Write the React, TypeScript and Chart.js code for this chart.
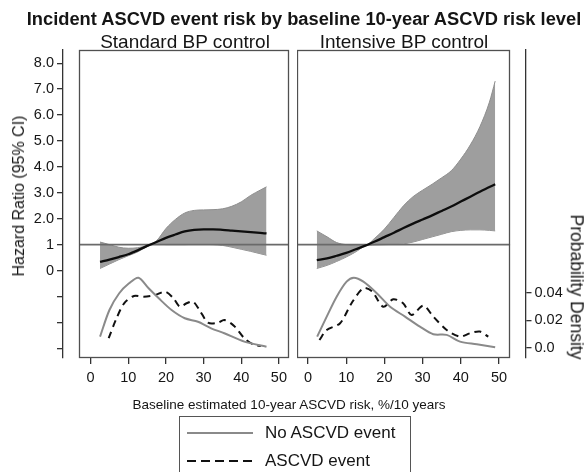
import React, { useEffect, useRef } from "react";
import { Chart, registerables } from "chart.js";

Chart.register(...registerables);

const FONT = "'Liberation Sans', Arial, Helvetica, sans-serif";
const TEXT = "#151515";

// ---------- Data (x = baseline 10-year ASCVD risk, %) ----------
// Standard BP control
const STD_X = [2.5, 5, 7.5, 10, 12.5, 15, 17.5, 20, 22.5, 25, 27.5, 30, 32.5, 35, 37.5, 40, 42.5, 45, 46.7];
const STD_HR = [0.33, 0.42, 0.52, 0.63, 0.78, 0.95, 1.1, 1.26, 1.39, 1.51, 1.57, 1.59, 1.59, 1.57, 1.54, 1.51, 1.48, 1.45, 1.43];
const STD_UPPER = [1.1, 1.0, 0.9, 0.86, 0.88, 0.97, 1.15, 1.62, 1.97, 2.22, 2.32, 2.34, 2.35, 2.38, 2.48, 2.65, 2.9, 3.1, 3.23];
const STD_LOWER = [0.08, 0.25, 0.42, 0.57, 0.72, 0.92, 1.02, 1.0, 1.0, 1.0, 1.01, 1.01, 1.0, 0.97, 0.9, 0.82, 0.74, 0.65, 0.59];
const STD_NOEVENT_X = [2.5, 5, 7.6, 10.2, 12.7, 15.4, 18.1, 21.5, 25, 28.5, 32, 35.5, 40.8, 46.7];
const STD_NOEVENT = [0.0082, 0.0276, 0.0398, 0.047, 0.0511, 0.0434, 0.0361, 0.0276, 0.0216, 0.0191, 0.0143, 0.0107, 0.0046, 0.0009];
const STD_EVENT_X = [4.8, 6.7, 8.9, 11.5, 14.1, 17.2, 19.8, 22, 23.7, 25.5, 27.2, 28.9, 31.2, 33.8, 35.5, 38.1, 40.8, 43.4, 45.2];
const STD_EVENT = [0.0071, 0.0204, 0.0325, 0.0378, 0.0373, 0.0385, 0.0409, 0.0361, 0.03, 0.0325, 0.0337, 0.0276, 0.0184, 0.0184, 0.0204, 0.016, 0.0071, 0.0022, 0.0015];

// Intensive BP control
const INT_X = [2.3, 5, 7.5, 10, 12.5, 15, 17.5, 20, 22.5, 25, 27.5, 30, 32.5, 35, 37.5, 40, 42.5, 45, 47.5, 49];
const INT_HR = [0.4, 0.47, 0.57, 0.68, 0.82, 0.96, 1.12, 1.29, 1.46, 1.64, 1.81, 1.97, 2.13, 2.3, 2.47, 2.66, 2.85, 3.04, 3.22, 3.33];
const INT_UPPER = [1.53, 1.3, 1.08, 1.0, 0.98, 0.98, 1.25, 1.6, 2.05, 2.5, 2.85, 3.1, 3.33, 3.58, 3.85, 4.3, 4.85, 5.55, 6.5, 7.31];
const INT_LOWER = [0.08, 0.2, 0.35, 0.52, 0.72, 0.95, 0.99, 1.0, 1.01, 1.03, 1.1, 1.2, 1.3, 1.4, 1.5, 1.55, 1.57, 1.57, 1.55, 1.53];
const INT_NOEVENT_X = [2.4, 4.9, 7.5, 10.1, 12.0, 14.5, 18, 21.5, 25.4, 29.3, 32.8, 36.3, 39.8, 44.2, 49];
const INT_NOEVENT = [0.0082, 0.0228, 0.0373, 0.0482, 0.0511, 0.0482, 0.0398, 0.03, 0.0228, 0.0155, 0.01, 0.0095, 0.0046, 0.0027, 0.0005];
const INT_EVENT_X = [3.0, 4.9, 8.4, 11.4, 14.5, 16.8, 19.7, 22.3, 24.9, 27.1, 30.2, 32.8, 36.3, 39.8, 42.4, 45, 47.2];
const INT_EVENT = [0.0058, 0.0131, 0.018, 0.0325, 0.0434, 0.041, 0.03, 0.0354, 0.0325, 0.024, 0.0308, 0.0228, 0.0131, 0.0082, 0.0107, 0.0119, 0.0082];

// Ticks
const X_TICKS = [0, 10, 20, 30, 40, 50];
const Y_TICKS = [8, 7, 6, 5, 4, 3, 2, 1, 0, -1, -2, -3];
const Y_TICK_LABELS = ["8.0", "7.0", "6.0", "5.0", "4.0", "3.0", "2.0", "1", "0", "", "", ""];
const D_TICKS = [0, 0.02, 0.04];
const D_TICK_LABELS = ["0.0", "0.02", "0.04"];
const REF_HR = 1;

// Scale ranges
const Y_MIN = -3.375;
const Y_MAX = 8.51;
const D_MIN = -0.0073;
const D_MAX = 0.2167;

type Panel = {
  x: number[]; hr: number[]; upper: number[]; lower: number[];
  noX: number[]; no: number[]; evX: number[]; ev: number[];
  xMin: number; xMax: number; frame: [number, number];
};

const STD: Panel = {
  x: STD_X, hr: STD_HR, upper: STD_UPPER, lower: STD_LOWER,
  noX: STD_NOEVENT_X, no: STD_NOEVENT, evX: STD_EVENT_X, ev: STD_EVENT,
  xMin: -7.33, xMax: 52.6, frame: [-3.05, 52.6],
};
const INT: Panel = {
  x: INT_X, hr: INT_HR, upper: INT_UPPER, lower: INT_LOWER,
  noX: INT_NOEVENT_X, no: INT_NOEVENT, evX: INT_EVENT_X, ev: INT_EVENT,
  xMin: -2.88, xMax: 56.94, frame: [-2.88, 52.9],
};

const pts = (xs: number[], ys: number[]) => xs.map((x, i) => ({ x, y: ys[i] }));

function framePlugin(range: [number, number]) {
  return {
    id: "panelFrame",
    afterDatasetsDraw(chart: any) {
      const { ctx, chartArea, scales } = chart;
      const x0 = Math.round(scales.x.getPixelForValue(range[0]));
      const x1 = Math.round(scales.x.getPixelForValue(range[1]));
      ctx.save();
      ctx.strokeStyle = "#505050";
      ctx.lineWidth = 1.3;
      ctx.strokeRect(x0 + 0.5, chartArea.top + 0.5, x1 - x0 - 1, chartArea.bottom - chartArea.top - 1);
      ctx.restore();
    },
  };
}

function buildConfig(p: Panel, isLeft: boolean): any {
  const tickFont = { family: FONT, size: 14.5 };
  const datasets: any[] = [
    {
      label: "HR", data: pts(p.x, p.hr), borderColor: "#0d0d0d", borderWidth: 2.3,
      pointRadius: 0, fill: false, yAxisID: "y", order: 0, cubicInterpolationMode: "monotone",
    },
    {
      label: "ref", data: [{ x: p.frame[0], y: REF_HR }, { x: p.frame[1], y: REF_HR }],
      borderColor: "#6a6a6a", borderWidth: 1.6, pointRadius: 0, fill: false, yAxisID: "y", order: 1,
    },
    {
      label: "upper", data: pts(p.x, p.upper), borderColor: "#8e8e8e", borderWidth: 1,
      backgroundColor: "#9e9e9e", fill: "+1", pointRadius: 0, yAxisID: "y", order: 3,
      cubicInterpolationMode: "monotone",
    },
    {
      label: "lower", data: pts(p.x, p.lower), borderColor: "#8e8e8e", borderWidth: 1,
      fill: false, pointRadius: 0, yAxisID: "y", order: 3, cubicInterpolationMode: "monotone",
    },
    {
      label: "No ASCVD event", data: pts(p.noX, p.no), borderColor: "#8a8a8a", borderWidth: 2,
      fill: false, pointRadius: 0, yAxisID: "yd", order: 2, tension: 0.3,
    },
    {
      label: "ASCVD event", data: pts(p.evX, p.ev), borderColor: "#111111", borderWidth: 2,
      borderDash: [7, 5], fill: false, pointRadius: 0, yAxisID: "yd", order: 2, tension: 0.3,
    },
  ];

  const scales: any = {
    x: {
      type: "linear", min: p.xMin, max: p.xMax,
      afterBuildTicks: (s: any) => { s.ticks = X_TICKS.map((v) => ({ value: v })); },
      afterFit: (s: any) => { s.height = 42; },
      ticks: { font: tickFont, color: TEXT, padding: 5, maxRotation: 0, autoSkip: false, callback: (v: any) => String(v) },
      grid: { drawOnChartArea: false, drawTicks: true, tickLength: 6, color: "#333", lineWidth: 1.3 },
      border: { display: false },
    },
    y: {
      type: "linear", position: "left", min: Y_MIN, max: Y_MAX, display: isLeft,
      afterBuildTicks: (s: any) => { s.ticks = Y_TICKS.map((v) => ({ value: v })); },
      afterFit: (s: any) => { s.width = isLeft ? 63 : 0; },
      ticks: {
        font: tickFont, color: TEXT, padding: 3, autoSkip: false,
        callback: (v: any) => { const i = Y_TICKS.indexOf(Number(v)); return i >= 0 ? Y_TICK_LABELS[i] : ""; },
      },
      grid: { drawOnChartArea: false, drawTicks: true, tickLength: 6, color: "#333", lineWidth: 1.3 },
      border: { display: true, color: "#333", width: 1.3 },
    },
    yd: {
      type: "linear", position: "right", min: D_MIN, max: D_MAX, display: !isLeft,
      afterBuildTicks: (s: any) => { s.ticks = D_TICKS.map((v) => ({ value: v })); },
      afterFit: (s: any) => { s.width = isLeft ? 0 : 62.5; },
      ticks: {
        font: tickFont, color: TEXT, padding: 3, autoSkip: false,
        callback: (v: any) => { const i = D_TICKS.findIndex((t) => Math.abs(t - Number(v)) < 1e-9); return i >= 0 ? D_TICK_LABELS[i] : ""; },
      },
      grid: { drawOnChartArea: false, drawTicks: true, tickLength: 6, color: "#333", lineWidth: 1.3 },
      border: { display: true, color: "#333", width: 1.3 },
    },
  };

  return {
    type: "line",
    data: { datasets },
    options: {
      responsive: false,
      maintainAspectRatio: false,
      animation: false,
      events: [],
      layout: { padding: { top: 50, left: 0, right: 0, bottom: 0 } },
      plugins: { legend: { display: false }, tooltip: { enabled: false }, title: { display: false } },
      scales,
    },
    plugins: [framePlugin(p.frame)],
  };
}

function PanelChart({ panel, isLeft, left, width }: { panel: Panel; isLeft: boolean; left: number; width: number }) {
  const ref = useRef<HTMLCanvasElement | null>(null);
  useEffect(() => {
    if (!ref.current) return;
    const chart = new Chart(ref.current, buildConfig(panel, isLeft));
    return () => chart.destroy();
  }, [panel, isLeft]);
  return (
    <canvas
      ref={ref}
      width={width}
      height={400}
      style={{ position: "absolute", left, top: 0, width, height: 400 }}
    />
  );
}

function Txt({ x, y, size, bold, rotate, children }: { x: number; y: number; size: number; bold?: boolean; rotate?: number; children: React.ReactNode }) {
  return (
    <div
      style={{
        position: "absolute", left: x, top: y,
        transform: `translate(-50%, -50%)${rotate ? ` rotate(${rotate}deg)` : ""}`,
        fontFamily: FONT, fontSize: size, fontWeight: bold ? 700 : 400, color: TEXT,
        whiteSpace: "nowrap", lineHeight: 1,
      }}
    >
      {children}
    </div>
  );
}

export default function App() {
  return (
    <div style={{ position: "fixed", left: 0, top: 0, width: 588, height: 472, background: "#fff", overflow: "hidden" }}>
      <PanelChart panel={STD} isLeft={true} left={0} width={292} />
      <PanelChart panel={INT} isLeft={false} left={297} width={291} />

      <Txt x={304} y={19} size={18.3} bold>Incident ASCVD event risk by baseline 10-year ASCVD risk level</Txt>
      <Txt x={185} y={41} size={19}>Standard BP control</Txt>
      <Txt x={404} y={41} size={19}>Intensive BP control</Txt>
      <Txt x={19} y={196} size={16} rotate={-90}>Hazard Ratio (95% CI)</Txt>
      <Txt x={576} y={287} size={17.5} rotate={90}>Probability Density</Txt>
      <Txt x={289} y={405} size={13.5}>Baseline estimated 10-year ASCVD risk, %/10 years</Txt>

      <div style={{ position: "absolute", left: 179, top: 416, width: 232, height: 80, border: "1px solid #555", boxSizing: "border-box" }} />
      <div style={{ position: "absolute", left: 187, top: 432, width: 66, height: 2, background: "#8a8a8a" }} />
      <div style={{ position: "absolute", left: 187, top: 460, width: 66, height: 2, background: "repeating-linear-gradient(to right, #111 0px, #111 9px, transparent 9px, transparent 14px)" }} />
      <div style={{ position: "absolute", left: 265, top: 424, fontFamily: FONT, fontSize: 17, color: TEXT, lineHeight: 1, whiteSpace: "nowrap" }}>No ASCVD event</div>
      <div style={{ position: "absolute", left: 265, top: 452, fontFamily: FONT, fontSize: 17, color: TEXT, lineHeight: 1, whiteSpace: "nowrap" }}>ASCVD event</div>
    </div>
  );
}
